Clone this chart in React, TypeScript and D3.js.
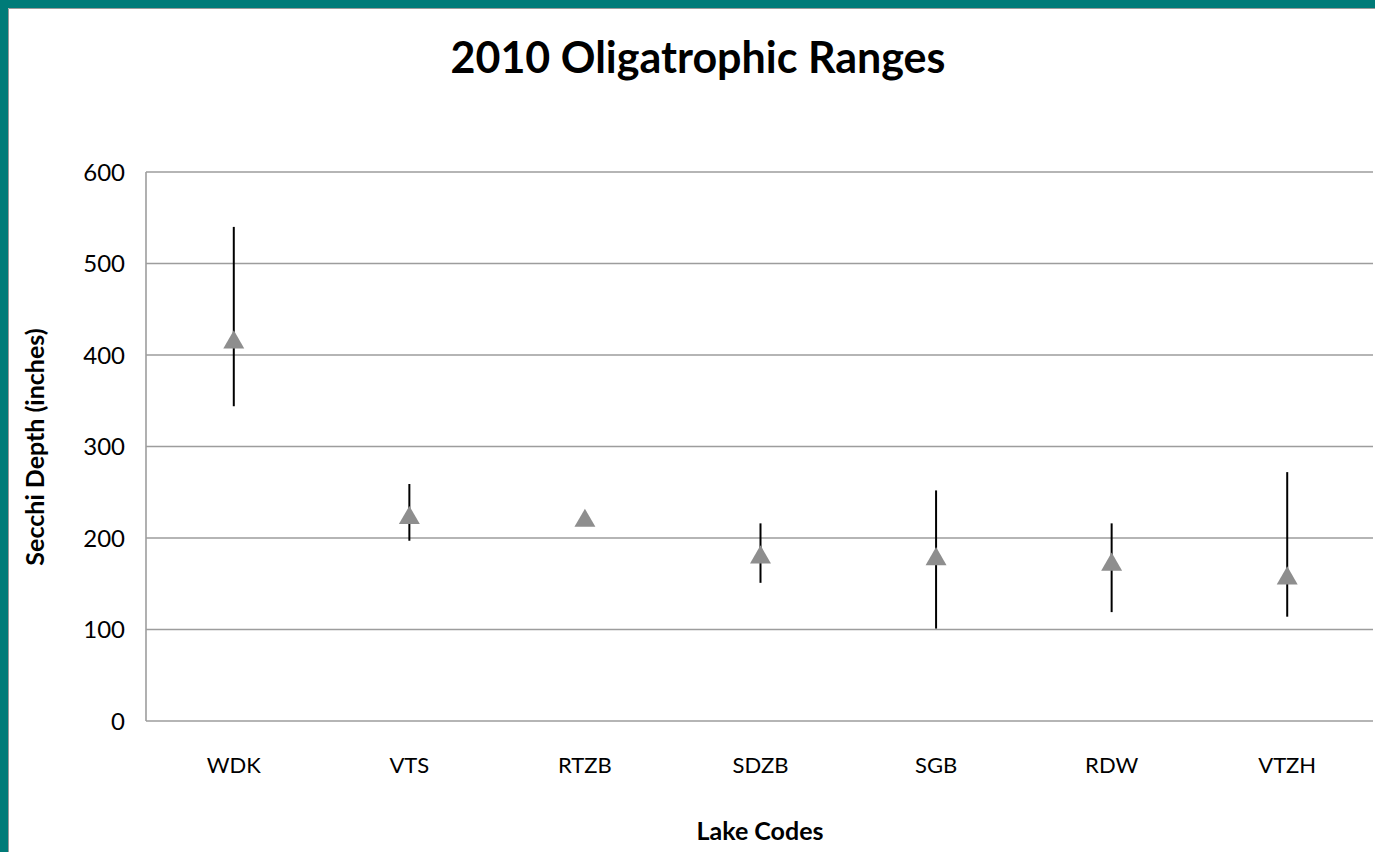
import React from "react";
import * as d3 from "d3";

const lakes = ["WDK", "VTS", "RTZB", "SDZB", "SGB", "RDW", "VTZH"];
const meanDepth = [416, 224, 221, 181, 179, 173, 158];
const highDepth = [540, 259, null, 216, 252, 216, 272];
const lowDepth = [344, 197, null, 151, 101, 119, 114];
const yTicks = [0, 100, 200, 300, 400, 500, 600];

const W = 1375;
const H = 852;
const plot = { left: 146, right: 1375, top: 172, bottom: 721 };
const FONT = "Lato, 'Open Sans', sans-serif";

export default function App() {
  const x = d3.scaleBand<string>().domain(lakes).range([plot.left, plot.right]);
  const y = d3.scaleLinear().domain([0, 600]).range([plot.bottom, plot.top]);
  const tri = d3.symbol().type(d3.symbolTriangle).size(190)();

  return (
    <svg
      width={W}
      height={H}
      style={{ position: "absolute", left: 0, top: 0, background: "#fff" }}
    >
      <rect x={0} y={0} width={W} height={H} fill="#fff" />
      <rect x={0} y={0} width={W} height={8} fill="#007b78" />
      <rect x={0} y={0} width={8} height={H} fill="#007b78" />
      <line x1={8.5} x2={W} y1={8.5} y2={8.5} stroke="#9a9a9a" strokeWidth={1} />
      <line x1={8.5} x2={8.5} y1={8.5} y2={H} stroke="#9a9a9a" strokeWidth={1} />

      <text
        x={698}
        y={73}
        textAnchor="middle"
        fontFamily={FONT}
        fontWeight={700}
        fontSize={43}
        fill="#000"
      >
        2010 Oligatrophic Ranges
      </text>

      {yTicks.map((t) => (
        <line
          key={t}
          x1={plot.left}
          x2={plot.right - 2}
          y1={y(t)}
          y2={y(t)}
          stroke="#9d9d9d"
          strokeWidth={1.6}
        />
      ))}
      <line
        x1={plot.left}
        x2={plot.left}
        y1={plot.top}
        y2={plot.bottom}
        stroke="#9d9d9d"
        strokeWidth={1.6}
      />

      {yTicks.map((t) => (
        <text
          key={t}
          x={125}
          y={y(t)}
          dy="0.36em"
          textAnchor="end"
          fontFamily={FONT}
          fontSize={24}
          fill="#000"
        >
          {t}
        </text>
      ))}

      {lakes.map((l) => (
        <text
          key={l}
          x={(x(l) as number) + x.bandwidth() / 2}
          y={773}
          textAnchor="middle"
          fontFamily={FONT}
          fontSize={22}
          fill="#000"
        >
          {l}
        </text>
      ))}

      {lakes.map((l, i) => {
        const cx = (x(l) as number) + x.bandwidth() / 2;
        const hi = highDepth[i];
        const lo = lowDepth[i];
        return (
          <g key={l}>
            {hi != null && lo != null && (
              <line x1={cx} x2={cx} y1={y(hi)} y2={y(lo)} stroke="#000" strokeWidth={2} />
            )}
            <path
              d={tri as string}
              transform={`translate(${cx},${y(meanDepth[i]) + 2})`}
              fill="#8e8e8e"
            />
          </g>
        );
      })}

      <text
        transform={`translate(44,447) rotate(-90)`}
        textAnchor="middle"
        fontFamily={FONT}
        fontWeight={700}
        fontSize={25}
        fill="#000"
      >
        Secchi Depth (inches)
      </text>
      <text
        x={760}
        y={840}
        textAnchor="middle"
        fontFamily={FONT}
        fontWeight={700}
        fontSize={25}
        fill="#000"
      >
        Lake Codes
      </text>
    </svg>
  );
}
